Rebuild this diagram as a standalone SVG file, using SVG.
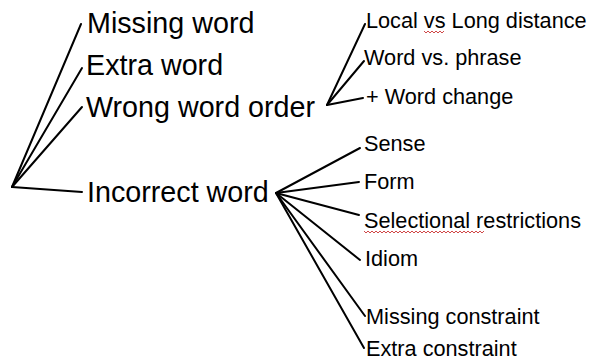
<svg xmlns="http://www.w3.org/2000/svg" width="591" height="364" viewBox="0 0 591 364">
<style>
.big{font-family:"Liberation Sans",Arial,sans-serif;font-size:28.7px;fill:#000}
.sm{font-family:"Liberation Sans",Arial,sans-serif;font-size:21.7px;fill:#000}
.ln{stroke:#000;stroke-width:2;fill:none;stroke-linecap:round}
.sq{stroke:#d04848;stroke-width:1;fill:none}
</style>
<rect width="591" height="364" fill="#fff"/>
<g id="connectors">
<line class="ln" x1="12" y1="187" x2="81" y2="24"/>
<line class="ln" x1="12" y1="187" x2="82" y2="68"/>
<line class="ln" x1="12" y1="187" x2="82" y2="107"/>
<line class="ln" x1="12" y1="187" x2="82" y2="192"/>
<line class="ln" x1="327" y1="105" x2="365" y2="24"/>
<line class="ln" x1="327" y1="105" x2="364" y2="61"/>
<line class="ln" x1="327" y1="105" x2="363" y2="98"/>
<line class="ln" x1="276" y1="193" x2="360" y2="148"/>
<line class="ln" x1="276" y1="193" x2="359" y2="182"/>
<line class="ln" x1="276" y1="193" x2="359" y2="215"/>
<line class="ln" x1="276" y1="193" x2="360" y2="260"/>
<line class="ln" x1="276" y1="193" x2="365" y2="316"/>
<line class="ln" x1="276" y1="193" x2="364" y2="348"/>
</g>
<g id="missing-word"><text class="big" x="87" y="33">Missing word</text></g>
<g id="extra-word"><text class="big" x="86" y="75">Extra word</text></g>
<g id="wrong-word-order"><text class="big" x="86" y="117">Wrong word order</text></g>
<g id="incorrect-word"><text class="big" x="87" y="202">Incorrect word</text></g>
<g id="local-vs-long"><text class="sm" x="366" y="28">Local vs Long distance</text>
<path class="sq" d="M424 31 l2 2 l2 -2 l2 2 l2 -2 l2 2 l2 -2 l2 2 l2 -2 l2 2 l2 -2"/></g>
<g id="word-vs-phrase"><text class="sm" x="364" y="65">Word vs. phrase</text></g>
<g id="word-change"><text class="sm" x="366" y="104">+ Word change</text></g>
<g id="sense"><text class="sm" x="364" y="151">Sense</text></g>
<g id="form"><text class="sm" x="364" y="189">Form</text></g>
<g id="selectional"><text class="sm" x="364" y="228">Selectional restrictions</text>
<path class="sq" d="M364 231 l2 2 l2 -2 l2 2 l2 -2 l2 2 l2 -2 l2 2 l2 -2 l2 2 l2 -2 l2 2 l2 -2 l2 2 l2 -2 l2 2 l2 -2 l2 2 l2 -2 l2 2 l2 -2 l2 2 l2 -2 l2 2 l2 -2 l2 2 l2 -2 l2 2 l2 -2 l2 2 l2 -2 l2 2 l2 -2 l2 2 l2 -2 l2 2 l2 -2 l2 2 l2 -2 l2 2 l2 -2 l2 2 l2 -2 l2 2 l2 -2 l2 2 l2 -2 l2 2 l2 -2 l2 2 l2 -2 l2 2 l2 -2 l2 2 l2 -2 l2 2 l2 -2 l2 2 l2 -2 l2 2 l2 -2"/></g>
<g id="idiom"><text class="sm" x="365" y="266">Idiom</text></g>
<g id="missing-constraint"><text class="sm" x="366" y="324">Missing constraint</text></g>
<g id="extra-constraint"><text class="sm" x="366" y="356">Extra constraint</text></g>
</svg>
